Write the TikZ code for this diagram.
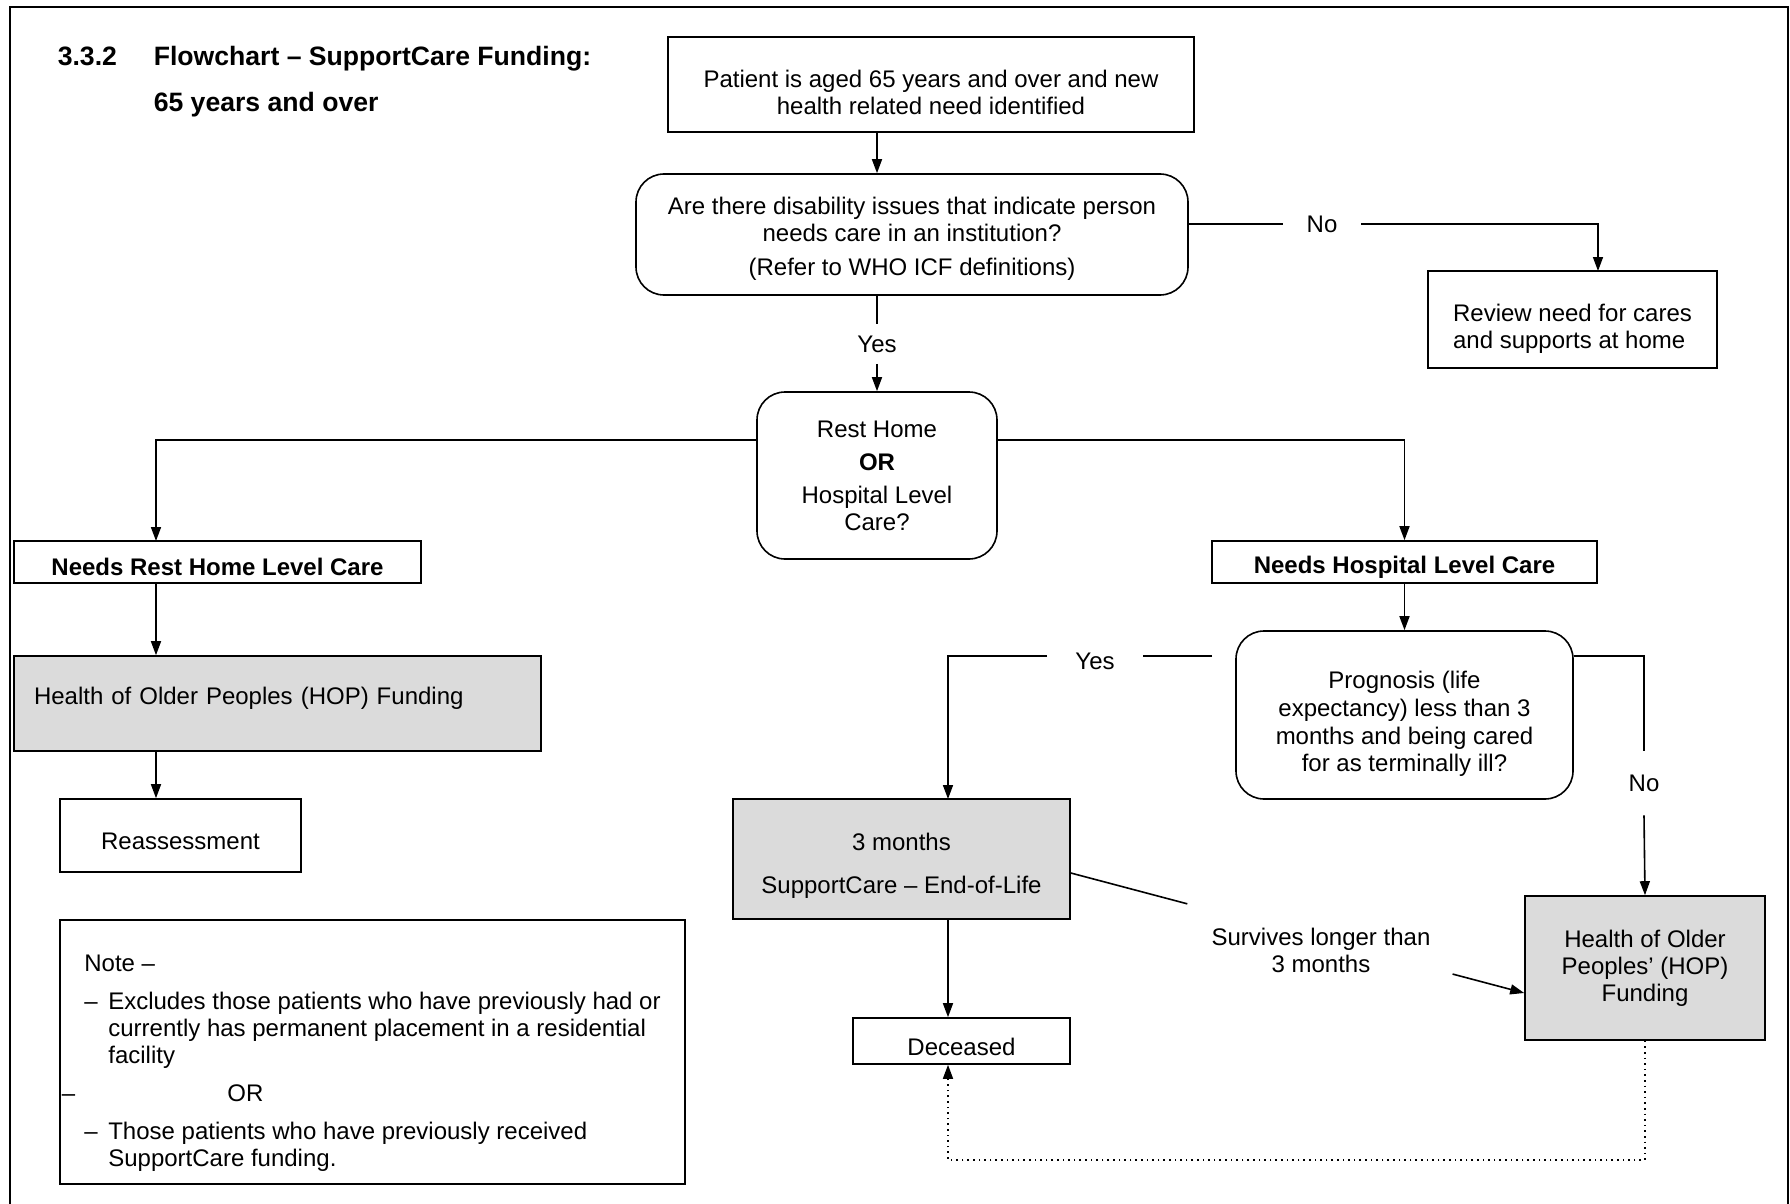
\documentclass[tikz,border=0pt]{standalone}
\usepackage{fontspec}
\setmainfont{Liberation Sans}
\usetikzlibrary{arrows.meta,calc}
\newcommand{\vpush}[1]{\rule{0pt}{#1}}

\begin{document}
\begin{tikzpicture}[x=0.5pt,y=-0.5pt,
    font=\fontsize{12}{13.5}\selectfont,
    line width=0.8pt,
    box/.style={draw, align=center, inner sep=0pt},
    rbox/.style={box, rounded corners=14pt},
    gbox/.style={box, fill=black!14},
    lab/.style={inner sep=0pt, minimum width=38.5pt, minimum height=19pt},
    arr/.style={-{Triangle[length=7pt,width=5pt]}}]
  \useasboundingbox (0,0) rectangle (1790,1204);
  \draw[line width=1pt] (10,1204) -- (10,7) -- (1788,7) -- (1788,1204);
  \node[anchor=base west, inner sep=0pt, font=\fontsize{13.3}{16}\selectfont\bfseries] (num) at (57,66) {3.3.2};
  \node[anchor=base west, inner sep=0pt, font=\fontsize{13.3}{16}\selectfont\bfseries] (ttl) at (153,66) {Flowchart – SupportCare Funding:};
  \node[anchor=base west, inner sep=0pt, font=\fontsize{13.3}{16}\selectfont\bfseries] (sub) at (153,112) {65 years and over};
  \node[box, minimum width=263pt, minimum height=47.5pt] (start) at (931,84.5) {\vpush{16.8pt}Patient is aged 65 years and over and new\\health related need identified};
  \node[rbox, minimum width=276pt, minimum height=60.5pt] (q1) at (912,234.5) {\vpush{12.8pt}Are there disability issues that indicate person\\needs care in an institution?\\[3.5pt](Refer to WHO ICF definitions)};
  \node[box, align=left, minimum width=144.5pt, minimum height=48.5pt] (review) at (1572.5,319.5) {\vpush{17.8pt}Review need for cares\\and supports at home};
  \node[rbox, minimum width=120pt, minimum height=83.5pt] (rh) at (877,475.5) {Rest Home\\[3pt]\textbf{OR}\\[3pt]Hospital Level\\Care?};
  \node[box, font=\fontsize{12}{13.5}\selectfont\bfseries, minimum width=203.5pt, minimum height=21pt] (nrh) at (217.5,562) {\vpush{13.4pt}Needs Rest Home Level Care};
  \node[box, font=\fontsize{12}{13.5}\selectfont\bfseries, minimum width=192.5pt, minimum height=21pt] (nhl) at (1404.5,562) {\vpush{13.6pt}Needs Hospital Level Care};
  \node[gbox, align=left, text width=243.5pt, inner xsep=10pt, text height=24.3pt, text depth=23.2pt] (hop1) at (277.5,703.5) {Health of Older Peoples (HOP) Funding};
  \node[box, minimum width=120.5pt, minimum height=36.5pt] (reass) at (180.5,835.5) {\vpush{14.5pt}Reassessment};
  \node[rbox, font=\fontsize{12}{13.8}\selectfont, minimum width=168.5pt, minimum height=84pt] (prog) at (1404.5,715) {\vpush{17.8pt}Prognosis (life\\expectancy) less than 3\\months and being cared\\for as terminally ill?};
  \node[gbox, minimum width=168.5pt, minimum height=60pt] (eol) at (901.5,859) {\vpush{15.6pt}3 months\\[8pt]SupportCare – End-of-Life};
  \node[gbox, minimum width=120pt, minimum height=72pt] (hop2) at (1645,968) {Health of Older\\Peoples’ (HOP)\\Funding};
  \node[box, minimum width=108.5pt, minimum height=23pt] (dec) at (961.5,1041) {\vpush{14.5pt}Deceased};
  \node[box, align=left, minimum width=312.5pt, minimum height=132pt] (note) at (372.5,1052) {\vpush{19.6pt}Note –\\[5.5pt]
    \makebox[12pt][l]{–}Excludes those patients who have previously had or\\
    \hspace*{12pt}currently has permanent placement in a residential\\
    \hspace*{12pt}facility\\[5.5pt]
    \llap{–\hspace{4.5pt}}\hspace*{71.5pt}OR\\[5.5pt]
    \makebox[12pt][l]{–}Those patients who have previously received\\
    \hspace*{12pt}SupportCare funding.};
  \node[lab] (no1) at (1322,224) {No};
  \node[lab] (yes1) at (877,344) {Yes};
  \node[lab, minimum width=47pt] (yes2) at (1095,661) {Yes};
  \node[lab, minimum height=31.5pt] (no2) at (1644,783) {No};
  \node[align=center, inner sep=0pt] (surv) at (1321,950) {Survives longer than\\3 months};
  \coordinate (split) at (877,440);
  \coordinate (nrhin) at (156,541);
  \coordinate (revin) at (1598,271);
  \coordinate (pl) at (1212,656);
  \coordinate (eolin) at (948,799);
  \coordinate (dotc) at (948,1160);
  \coordinate (sv0) at ([yshift=-7pt]eol.east);
  \coordinate (sv3) at ([yshift=-12.5pt]hop2.west);
  \draw[arr] (start.south -| rh) -- (q1.north -| rh);
  \draw (q1.east |- no1) -- (no1.west);
  \draw[arr] (no1.east) -| (revin);
  \draw (q1.south -| rh) -- (yes1.north);
  \draw[arr] (yes1.south) -- (rh.north);
  \draw[arr] (rh.west |- split) -| (nrhin);
  \draw[arr] (rh.east |- split) -| (nhl.north);
  \draw[arr] (nrh.south -| nrhin) -- (hop1.north -| nrhin);
  \draw[arr] (hop1.south -| nrhin) -- (reass.north -| nrhin);
  \draw[arr] (nhl) -- (prog);
  \draw (pl) -- (yes2.east |- pl);
  \draw[arr] (yes2.west |- pl) -| (eolin);
  \draw (prog.east |- pl) -| (no2.north);
  \draw[arr] (no2.south) -- (hop2.north);
  \draw[arr] (eol.south -| eolin) -- (dec.north -| eolin);
  \draw[arr, dotted] (hop2.south) |- (dotc) -- (dec.south -| dotc);
  \draw (sv0) -- ($(sv0)!0.257!(sv3)$);
  \draw[arr] ($(sv0)!0.842!(sv3)$) -- (sv3);
\end{tikzpicture}
\end{document}
